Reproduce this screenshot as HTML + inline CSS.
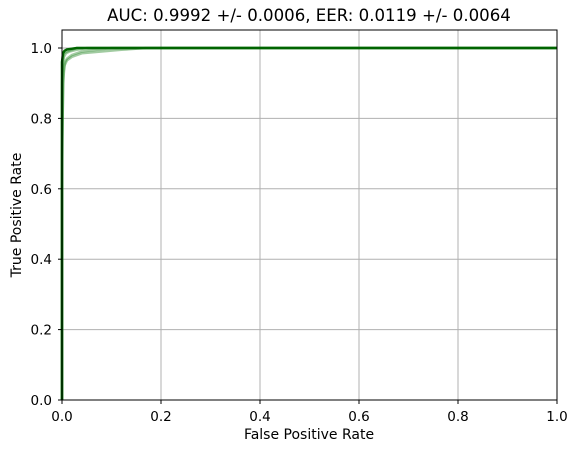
<!DOCTYPE html>
<html><head><meta charset="utf-8"><style>
body{margin:0;background:#fff;font-family:"Liberation Sans","DejaVu Sans",sans-serif;}
svg text{font-family:"DejaVu Sans","Liberation Sans",sans-serif;}
</style></head><body>
<svg id="chart" width="578" height="453">
<rect width="578" height="453" fill="#fff"/>
<g id="grid"></g>
<g id="curves"></g>
<rect x="62" y="30" width="495" height="370" fill="none" stroke="#000" stroke-width="1"/>
<g id="ticks"></g>
<text x="309" y="21" font-size="16.6" text-anchor="middle">AUC: 0.9992 +/- 0.0006, EER: 0.0119 +/- 0.0064</text>
<text x="309" y="439" font-size="14" text-anchor="middle">False Positive Rate</text>
<text x="21" y="215" font-size="14" text-anchor="middle" transform="rotate(-90 21 215)">True Positive Rate</text>
</svg>
<script>
const xTicks=[0,0.2,0.4,0.6,0.8,1.0];
const yTicks=[0,0.2,0.4,0.6,0.8,1.0];
const xTickLabels=["0.0","0.2","0.4","0.6","0.8","1.0"];
const yTickLabels=["0.0","0.2","0.4","0.6","0.8","1.0"];
const foldFPR=[
[0,0,0.002,0.005,0.01,0.02,0.04,0.08,0.12,0.17,1],
[0,0,0.003,0.006,0.01,0.02,0.04,0.07,0.1,1],
[0,0,0.001,0.004,0.008,0.015,0.03,0.05,1],
[0,0,0.002,0.004,0.01,0.02,0.03,1]
];
const foldTPR=[
[0,0.6,0.9,0.95,0.965,0.975,0.985,0.99,0.995,1,1],
[0,0.7,0.93,0.96,0.97,0.98,0.99,0.995,1,1],
[0,0.85,0.95,0.975,0.985,0.99,0.995,1,1],
[0,0.9,0.97,0.985,0.99,0.995,1,1]
];
const meanFPR=[0,0,0.002,0.005,0.01,0.03,1];
const meanTPR=[0,0.96,0.985,0.992,0.996,1,1];
const X=v=>62+v*495, Y=v=>400-v*352;
const ns="http://www.w3.org/2000/svg";
const grid=document.getElementById('grid'),ticks=document.getElementById('ticks'),cur=document.getElementById('curves');
function mk(t,a,p){const e=document.createElementNS(ns,t);for(const k in a)e.setAttribute(k,a[k]);p.appendChild(e);return e;}
xTicks.forEach((v,i)=>{
 const g=mk('line',{x1:X(v),x2:X(v),y1:30,y2:400,stroke:'#b0b0b0','stroke-width':1},grid);
 
 
 mk('line',{x1:X(v),x2:X(v),y1:400,y2:404,stroke:'#000'},ticks);
 const t=mk('text',{x:X(v),y:421,'font-size':13.5,'text-anchor':'middle'},ticks);t.textContent=xTickLabels[i];
 
 
});
yTicks.forEach((v,i)=>{
 const g=mk('line',{x1:62,x2:557,y1:Y(v),y2:Y(v),stroke:'#b0b0b0','stroke-width':1},grid);
 
 
 mk('line',{x1:58,x2:62,y1:Y(v),y2:Y(v),stroke:'#000'},ticks);
 const t=mk('text',{x:52,y:Y(v)+5,'font-size':13.5,'text-anchor':'end'},ticks);t.textContent=yTickLabels[i];
 
 
});
function path(fx,ty){return fx.map((f,i)=>(i?'L':'M')+X(f).toFixed(1)+','+Y(ty[i]).toFixed(1)).join('');}
foldFPR.forEach((f,i)=>{
 const p=mk('path',{d:path(f,foldTPR[i]),fill:'none',stroke:'#2e8b2e','stroke-opacity':0.45,'stroke-width':2.5},cur);
 
 
});
const m=mk('path',{d:path(meanFPR,meanTPR),fill:'none',stroke:'#006400','stroke-width':2.5},cur);


</script>
</body></html>
